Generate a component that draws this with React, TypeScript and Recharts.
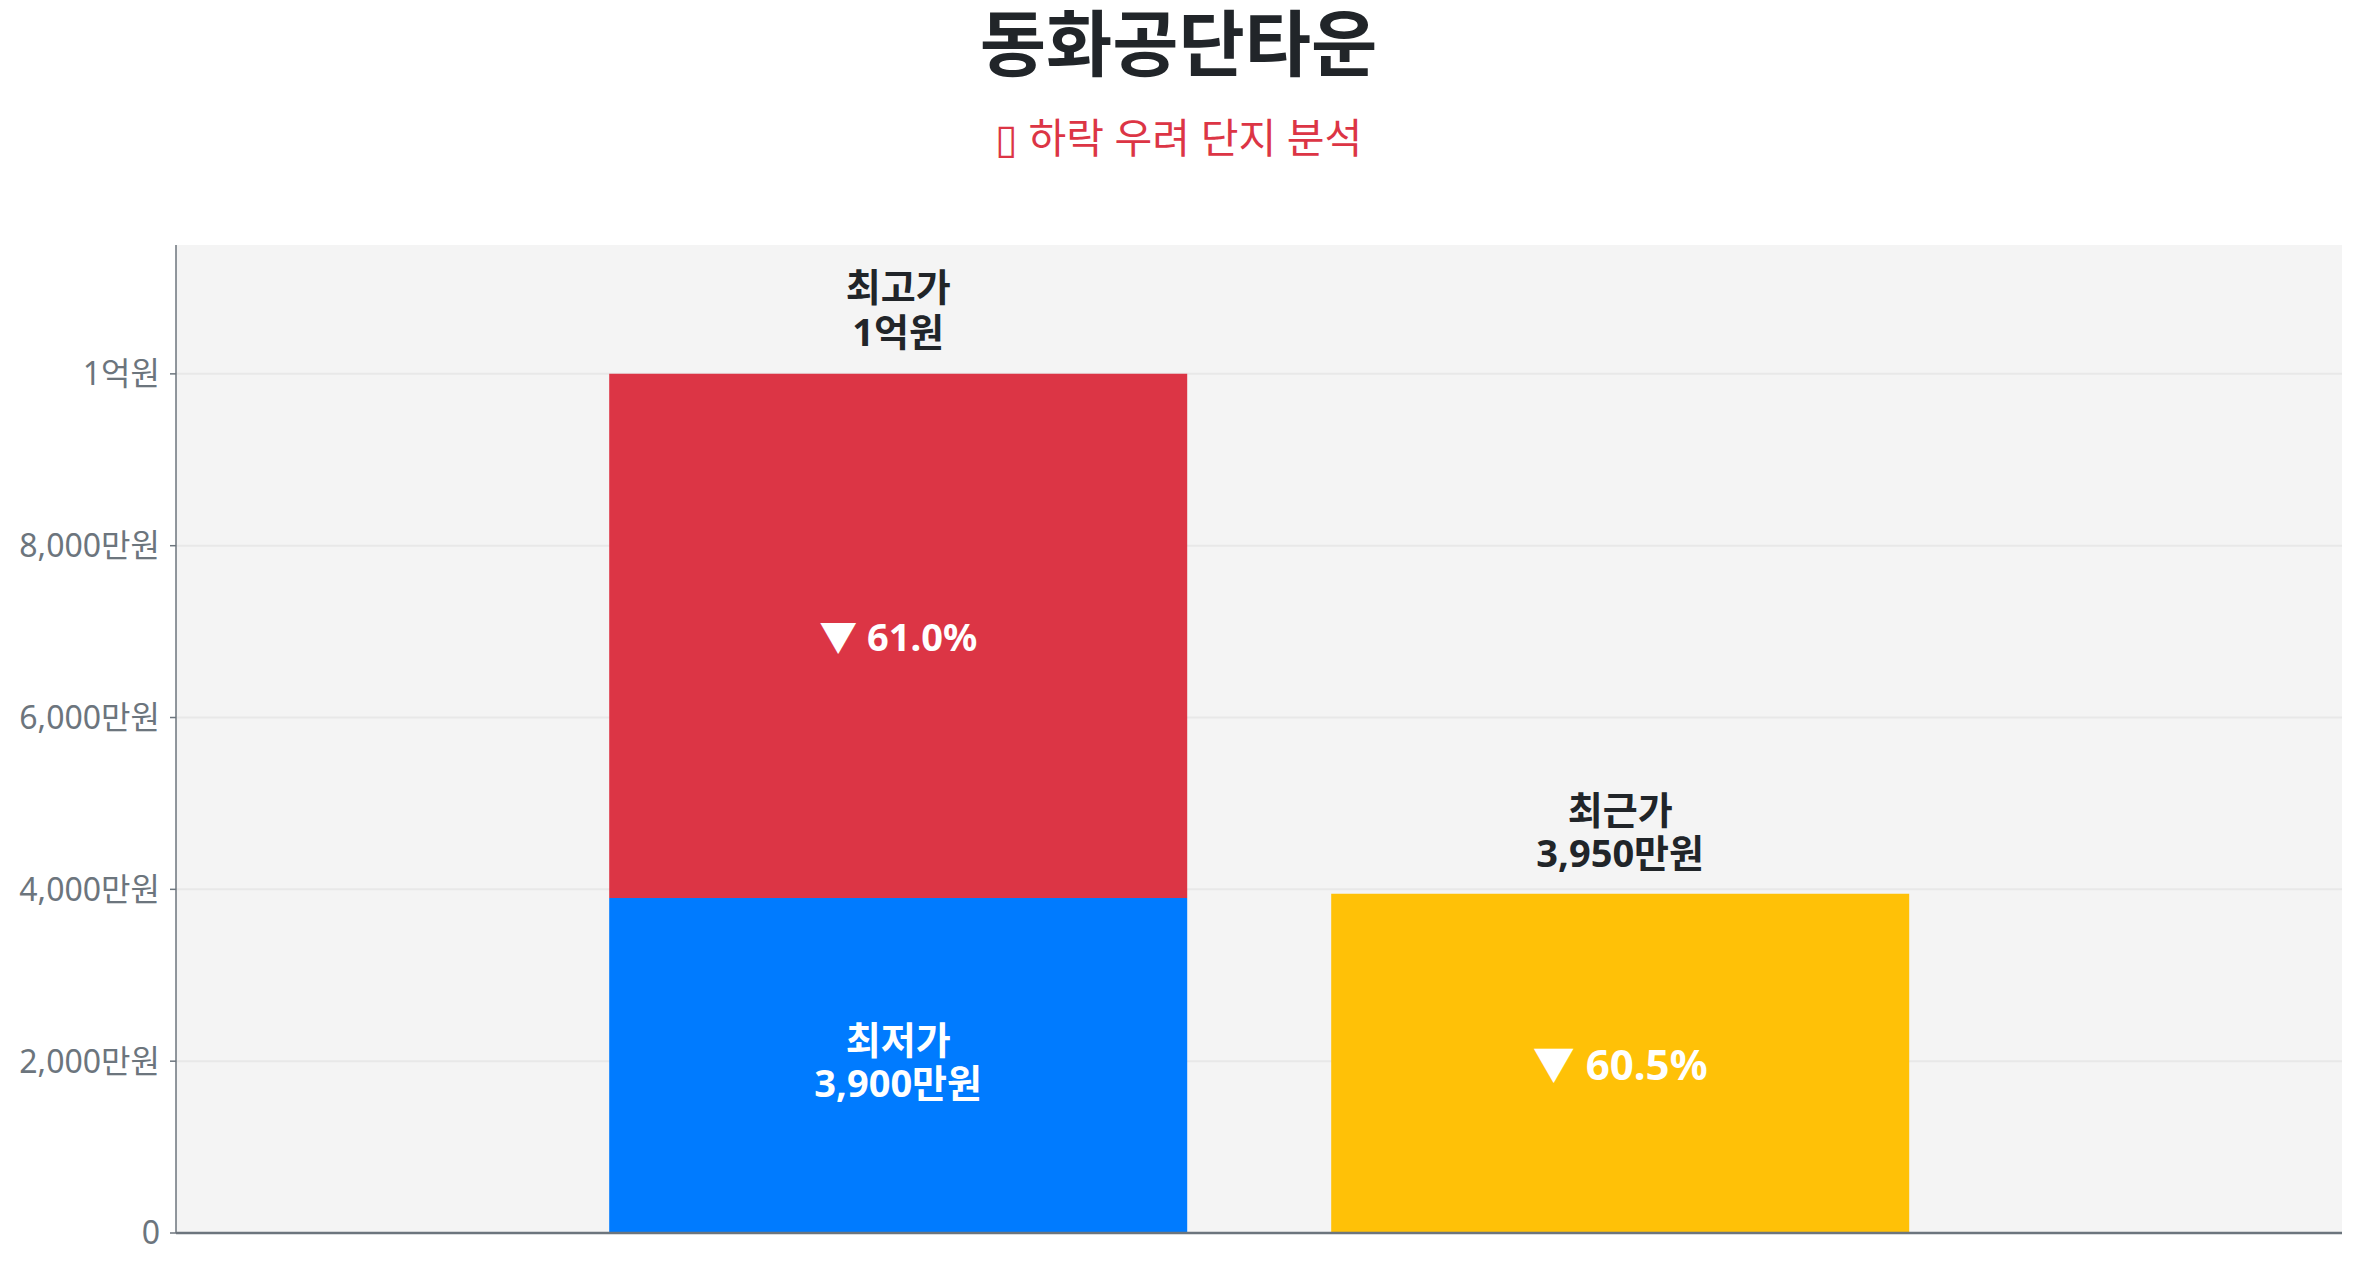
import { BarChart, Bar, XAxis, YAxis, CartesianGrid, LabelList } from "recharts"

// ---- data (단위: 만원) ----
const categories = ["최고·최저", "최근"]
const maxPrices = [10000, 0]
const minPrices = [3900, 0]
const recentPrices = [0, 3950]
const yTicks = [0, 2000, 4000, 6000, 8000, 10000]

const FONT = "'Noto Sans', 'Noto Sans CJK KR', sans-serif"
const DARK = "#212529"
const GRAY = "#6c757d"
const RED = "#dc3545"
const BLUE = "#007bff"
const YELLOW = "#ffc107"

const rows = categories.map((name, i) => ({
  name,
  low: minPrices[i],
  range: maxPrices[i] - minPrices[i],
  recent: recentPrices[i],
  max: maxPrices[i],
}))

const peak = Math.max(...maxPrices)

function fmtPrice(v: number) {
  if (v === 0) return "0"
  if (v >= 10000) return `${v / 10000}억원`
  return `${v.toLocaleString("en-US")}만원`
}

function dropPct(v: number) {
  return `▼ ${(((peak - v) / peak) * 100).toFixed(1)}%`
}

// two-line text centred on (cx, cy)
function TwoLines({ cx, cy, a, b, fill, size, gap }: any) {
  return (
    <text x={cx} y={cy} textAnchor="middle" fill={fill} fontSize={size} fontWeight={700} fontFamily={FONT}>
      <tspan x={cx} y={cy - gap / 2} dominantBaseline="central">{a}</tspan>
      <tspan x={cx} y={cy + gap / 2} dominantBaseline="central">{b}</tspan>
    </text>
  )
}

export default function App() {
  return (
    <div style={{ position: "absolute", left: 0, top: 0, width: 2357, height: 1268, background: "#fff", fontFamily: FONT }}>
      <div style={{ position: "absolute", left: 0, width: 2357, top: 2, textAlign: "center", fontSize: 72, lineHeight: "80px", fontWeight: 700, color: DARK }}>
        동화공단타운
      </div>
      <div style={{ position: "absolute", left: 0, width: 2357, top: 110, textAlign: "center", fontSize: 41, lineHeight: "54px", color: RED }}>
        ▯ 하락 우려 단지 분석
      </div>

      <div style={{ position: "absolute", left: 0, top: 0 }}>
        <BarChart width={2357} height={1268} data={rows} margin={{ top: 245, right: 15, bottom: 30, left: 0 }} barCategoryGap="10%">
          <CartesianGrid
            vertical={false}
            stroke="#e8e8e8"
            strokeWidth={2}
            fill="#f4f4f4"
            horizontalValues={yTicks.filter((t) => t > 0)}
          />
          <XAxis
            dataKey="name"
            height={5}
            tick={false}
            tickLine={false}
            axisLine={{ stroke: GRAY, strokeWidth: 2.5 }}
            padding={{ left: 361, right: 361 }}
          />
          <YAxis
            width={176}
            type="number"
            domain={[0, 11500]}
            ticks={yTicks}
            tickFormatter={fmtPrice}
            tick={{ fill: GRAY, fontSize: 32, fontFamily: FONT }}
            tickSize={6}
            tickMargin={10}
            tickLine={{ stroke: GRAY, strokeWidth: 1.5 }}
            axisLine={{ stroke: GRAY, strokeWidth: 1.5 }}
          />
          <Bar dataKey="low" stackId="p" fill={BLUE} isAnimationActive={false}>
            <LabelList
              dataKey="low"
              content={(p: any) =>
                p.value ? (
                  <TwoLines cx={p.x + p.width / 2} cy={p.y + p.height / 2 - 5} a="최저가" b={fmtPrice(p.value)} fill="#fff" size={38} gap={43} />
                ) : null
              }
            />
          </Bar>
          <Bar dataKey="range" stackId="p" fill={RED} isAnimationActive={false}>
            <LabelList
              dataKey="range"
              content={(p: any) =>
                p.value ? (
                  <g>
                    <text x={p.x + p.width / 2} y={p.y + p.height / 2} textAnchor="middle" dominantBaseline="central" fill="#fff" fontSize={38} fontWeight={700} fontFamily={FONT}>
                      {dropPct(minPrices[p.index])}
                    </text>
                    <TwoLines cx={p.x + p.width / 2} cy={p.y - 65} a="최고가" b={fmtPrice(maxPrices[p.index])} fill={DARK} size={38} gap={45} />
                  </g>
                ) : null
              }
            />
          </Bar>
          <Bar dataKey="recent" stackId="p" fill={YELLOW} isAnimationActive={false}>
            <LabelList
              dataKey="recent"
              content={(p: any) =>
                p.value ? (
                  <g>
                    <text x={p.x + p.width / 2} y={p.y + p.height / 2} textAnchor="middle" dominantBaseline="central" fill="#fff" fontSize={42} fontWeight={700} fontFamily={FONT}>
                      {dropPct(p.value)}
                    </text>
                    <TwoLines cx={p.x + p.width / 2} cy={p.y - 63} a="최근가" b={fmtPrice(p.value)} fill={DARK} size={38} gap={43} />
                  </g>
                ) : null
              }
            />
          </Bar>
        </BarChart>
      </div>
    </div>
  )
}
